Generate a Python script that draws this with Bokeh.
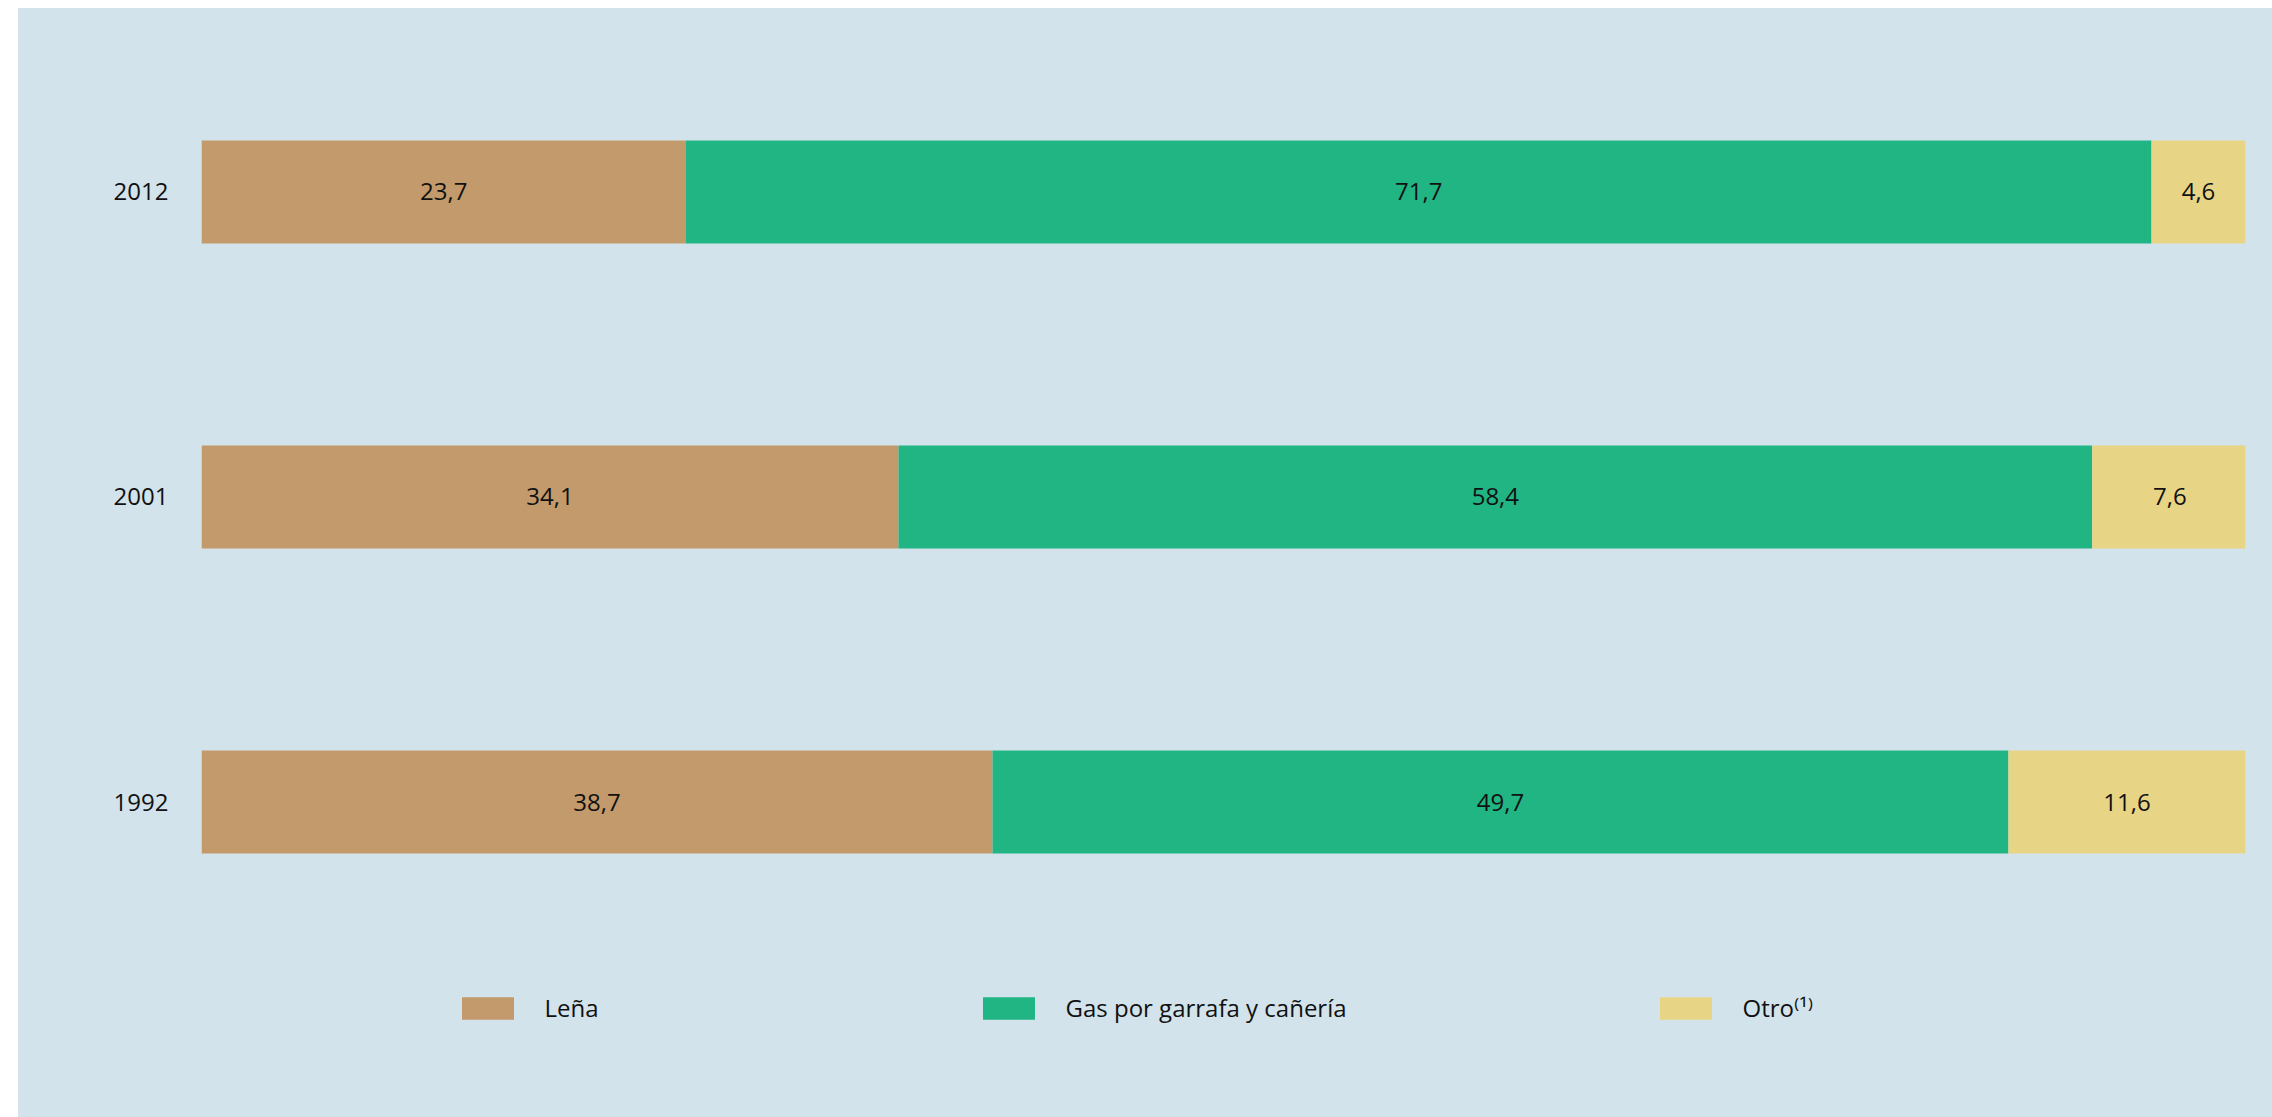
from bokeh.plotting import figure
from bokeh.models import (ColumnDataSource, Legend, LegendItem, Range1d, Spacer,
                          FixedTicker)
from bokeh.layouts import row, column
from bokeh.core.properties import value
from bokeh.embed import file_html
from bokeh.resources import INLINE

# ---- data ----
years = ["1992", "2001", "2012"]
lena = [38.7, 34.1, 23.7]
gas = [49.7, 58.4, 71.7]
otro = [11.6, 7.6, 4.6]
series_keys = ["lena", "gas", "otro"]
series_names = ["Leña", "Gas por garrafa y cañería", "Otro⁽¹⁾"]
colors = ["#C39A6B", "#20B583", "#E8D485"]

BG = "#D2E3EB"
FONT = "Open Sans"
TXT = "#111111"

ypos = list(range(len(years)))  # category positions on the y scale

W, H = 2254, 1109
p = figure(width=W, height=H, y_range=Range1d(-1.0344, 2.6016), x_range=Range1d(0, 100),
           output_backend="svg", toolbar_location=None,
           min_border_left=183, min_border_right=27, min_border_top=0, min_border_bottom=0)
p.background_fill_alpha = 0
p.border_fill_alpha = 0
p.styles = {"background-color": BG}
p.outline_line_color = None
p.xgrid.visible = False
p.ygrid.visible = False
p.xaxis.visible = False

ax = p.yaxis[0]
ax.ticker = FixedTicker(ticks=ypos)
ax.major_label_overrides = {i: y for i, y in zip(ypos, years)}
ax.axis_line_color = None
ax.major_tick_line_color = None
ax.minor_tick_line_color = None
ax.major_tick_out = 0
ax.major_tick_in = 0
ax.major_label_standoff = 33
ax.major_label_text_font = FONT
ax.major_label_text_font_size = "24px"
ax.major_label_text_color = TXT

data = dict(y=ypos, lena=lena, gas=gas, otro=otro)
src = ColumnDataSource(data)
renderers = p.hbar_stack(series_keys, y="y", height=0.3377, fill_color=colors,
                         line_color=None, source=src)

# value labels at segment centres
lx, ly, lt = [], [], []
for i, y in enumerate(ypos):
    left = 0.0
    for vals in (lena, gas, otro):
        v = vals[i]
        lx.append(left + v / 2)
        ly.append(y)
        lt.append(f"{v:.1f}".replace(".", ","))
        left += v
lsrc = ColumnDataSource(dict(x=lx, y=ly, t=lt))
p.text(x="x", y="y", text="t", source=lsrc, text_align="center", text_baseline="middle",
       text_font=value(FONT), text_font_size="24px", text_color=TXT)

# legends (three separate, placed below the bars)
leg_x = [253.5, 774.5, 1451.5]
for i, r in enumerate(renderers):
    leg = Legend(items=[LegendItem(label=series_names[i], renderers=[r])],
                 location=(leg_x[i], 93), orientation="horizontal",
                 padding=0, margin=0, border_line_color=None, background_fill_alpha=0,
                 glyph_width=65, glyph_height=28, label_height=28, label_standoff=25,
                 label_text_font=FONT, label_text_font_size="24px", label_text_color=TXT)
    p.add_layout(leg, "center")

layout = column(Spacer(width=W, height=8), row(Spacer(width=18, height=H), p))
open("out.html", "w").write(file_html(layout, INLINE))
